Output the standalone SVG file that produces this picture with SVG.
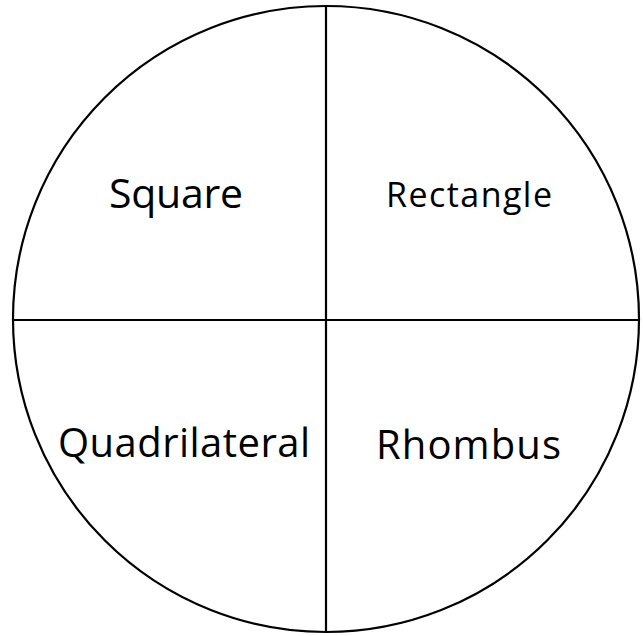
<svg xmlns="http://www.w3.org/2000/svg" width="643" height="636" viewBox="0 0 643 636">
<style>
.lbl{font-family:"Open Sans",Lato,sans-serif;fill:#000;text-anchor:middle}
.ln{stroke:#000;stroke-width:2.2;fill:none}
</style>
<rect width="643" height="636" fill="#fff"/>
<g id="connectors">
<circle class="ln" cx="326" cy="319" r="313"/>
<line class="ln" x1="326" y1="6" x2="326" y2="632"/>
<line class="ln" x1="13" y1="320" x2="639" y2="320"/>
</g>
<g id="square"><text class="lbl" x="176" y="208" font-size="41" textLength="134">Square</text></g>
<g id="rectangle"><text class="lbl" x="469" y="207" font-size="34" textLength="166">Rectangle</text></g>
<g id="quadrilateral"><text class="lbl" x="184" y="457" font-size="40" textLength="252">Quadrilateral</text></g>
<g id="rhombus"><text class="lbl" x="468.5" y="459" font-size="40" textLength="185">Rhombus</text></g>
</svg>
